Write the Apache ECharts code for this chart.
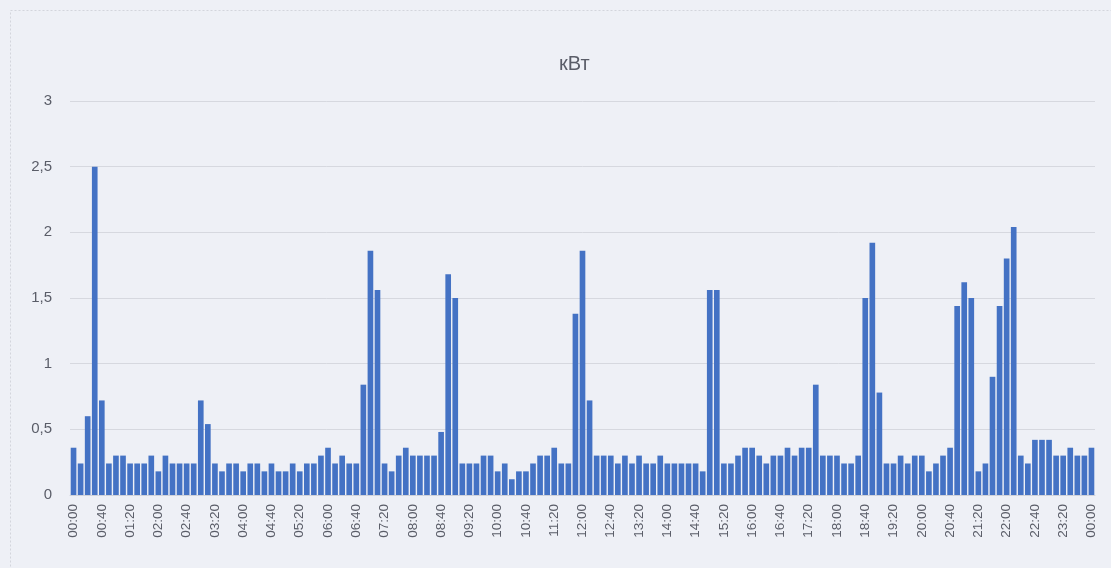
<!DOCTYPE html>
<html>
<head>
<meta charset="utf-8">
<script src="https://cdn.jsdelivr.net/npm/echarts@6/dist/echarts.min.js"></script>
<style>
  html, body { margin: 0; padding: 0; background: #eef0f6; }
  #chart { width: 1111px; height: 568px; }
</style>
</head>
<body>
<div id="chart"></div>
<script>
// Power draw in kW, one reading every 10 minutes, 00:00 through the next 00:00
const title = 'кВт';

const times = [];
for (let m = 0; m <= 24 * 60; m += 10) {
  const h = Math.floor(m / 60) % 24;
  const mm = m % 60;
  times.push(String(h).padStart(2, '0') + ':' + String(mm).padStart(2, '0'));
}

const power = [
  0.36, 0.24, 0.60, 2.50, 0.72, 0.24, 0.30, 0.30, 0.24, 0.24, 0.24, 0.30,
  0.18, 0.30, 0.24, 0.24, 0.24, 0.24, 0.72, 0.54, 0.24, 0.18, 0.24, 0.24,
  0.18, 0.24, 0.24, 0.18, 0.24, 0.18, 0.18, 0.24, 0.18, 0.24, 0.24, 0.30,
  0.36, 0.24, 0.30, 0.24, 0.24, 0.84, 1.86, 1.56, 0.24, 0.18, 0.30, 0.36,
  0.30, 0.30, 0.30, 0.30, 0.48, 1.68, 1.50, 0.24, 0.24, 0.24, 0.30, 0.30,
  0.18, 0.24, 0.12, 0.18, 0.18, 0.24, 0.30, 0.30, 0.36, 0.24, 0.24, 1.38,
  1.86, 0.72, 0.30, 0.30, 0.30, 0.24, 0.30, 0.24, 0.30, 0.24, 0.24, 0.30,
  0.24, 0.24, 0.24, 0.24, 0.24, 0.18, 1.56, 1.56, 0.24, 0.24, 0.30, 0.36,
  0.36, 0.30, 0.24, 0.30, 0.30, 0.36, 0.30, 0.36, 0.36, 0.84, 0.30, 0.30,
  0.30, 0.24, 0.24, 0.30, 1.50, 1.92, 0.78, 0.24, 0.24, 0.30, 0.24, 0.30,
  0.30, 0.18, 0.24, 0.30, 0.36, 1.44, 1.62, 1.50, 0.18, 0.24, 0.90, 1.44,
  1.80, 2.04, 0.30, 0.24, 0.42, 0.42, 0.42, 0.30, 0.30, 0.36, 0.30, 0.30,
  0.36
];

const yTicks = { min: 0, max: 3, step: 0.5 };

const textColor = '#5a5d68';
const chart = echarts.init(document.getElementById('chart'));
chart.setOption({
  backgroundColor: '#eef0f6',
  animation: false,
  textStyle: { fontFamily: 'Liberation Sans, Arial, sans-serif' },
  graphic: [{
    type: 'rect',
    left: 8, top: 8,
    shape: { width: 1120, height: 580 },
    style: { fill: 'none', stroke: '#d3d5dc', lineWidth: 1, lineDash: [2, 2] },
    silent: true
  }],
  title: {
    text: title,
    left: 554,
    top: 49,
    textStyle: { color: textColor, fontSize: 20, fontWeight: 'normal' }
  },
  grid: { left: 70, right: 16, top: 101, bottom: 73 },
  xAxis: {
    type: 'category',
    data: times,
    boundaryGap: true,
    axisLine: { show: true, lineStyle: { color: '#d0d2d9' } },
    axisTick: { show: false },
    axisLabel: {
      interval: 3,
      rotate: 90,
      color: textColor,
      fontSize: 13.5,
      margin: 9
    }
  },
  yAxis: {
    type: 'value',
    min: yTicks.min,
    max: yTicks.max,
    interval: yTicks.step,
    axisLine: { show: false },
    axisTick: { show: false },
    splitLine: { lineStyle: { color: '#d6d8df', width: 1 } },
    axisLabel: {
      color: textColor,
      fontSize: 15,
      margin: 18,
      formatter: v => String(v).replace('.', ',')
    }
  },
  series: [{
    type: 'bar',
    data: power,
    barCategoryGap: '20%',
    itemStyle: { color: '#4472c4' }
  }]
});
</script>
</body>
</html>
